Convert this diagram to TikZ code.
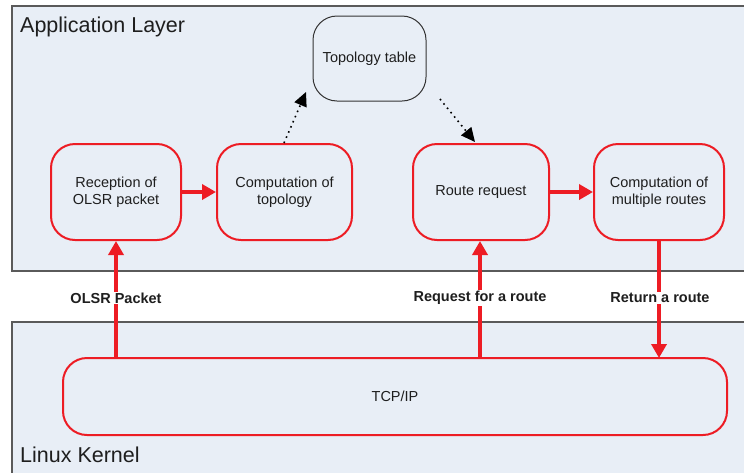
\documentclass[tikz,border=0pt]{standalone}
\usepackage{fontspec}
\setmainfont{Liberation Sans}
\usetikzlibrary{arrows.meta}
\definecolor{panelfill}{RGB}{232,238,246}
\definecolor{panelline}{RGB}{90,90,90}
\definecolor{myred}{RGB}{237,28,36}
\definecolor{txt}{RGB}{30,30,30}
\tikzset{
  panel/.style={draw=panelline, line width=1.2pt, fill=panelfill},
  redbox/.style={draw=myred, line width=2pt, rounded corners=24pt, text=txt,
     font=\fontsize{14.5}{17.5}\selectfont, align=center, inner sep=0pt},
  blackbox/.style={draw=black!80, line width=1pt, rounded corners=24pt, text=txt,
     font=\fontsize{14.5}{17.5}\selectfont, align=center, inner sep=0pt},
  redarrow/.style={draw=myred, line width=3.5pt, -{Triangle[length=14pt,width=15pt]}},
  dotarrow/.style={draw=black, line width=1.6pt, dash pattern=on 1.6pt off 4pt, -{Triangle[length=14pt,width=13pt]}},
  lbl/.style={font=\fontsize{14.5}{16}\bfseries, text=txt, fill=white, inner sep=1pt},
  title/.style={font=\fontsize{21.5}{24}\selectfont, text=txt, anchor=west, inner sep=0pt}
}
\begin{document}
\begin{tikzpicture}[x=1pt,y=-1pt]
\useasboundingbox (0,0) rectangle (744,472);
\clip (0,0) rectangle (744,472);
\fill[white] (0,0) rectangle (744,472);
% panels
\draw[panel] (12,760) -- (12,322) -- (760,322);
\fill[panelfill] (12.6,322.6) rectangle (760,480);
\draw[panel] (760,6) -- (12,6) -- (12,271) -- (760,271);
\fill[panelfill] (12.6,6.6) rectangle (760,270.4);
\node[title] (applbl) at (20,26.5) {Application Layer};
\node[title] (linlbl) at (20,455) {Linux Kernel};
% boxes
\node[redbox, minimum width=130pt, minimum height=96pt] (recv) at (116,192) {Reception of\\OLSR packet};
\node[redbox, minimum width=135pt, minimum height=96pt] (comptopo) at (284.5,192) {Computation of\\topology};
\node[blackbox, minimum width=113pt, minimum height=85pt] (table) at (369.5,58.5) {Topology table};
\node[redbox, minimum width=136pt, minimum height=96pt] (routereq) at (481,192) {Route request};
\node[redbox, minimum width=130pt, minimum height=96pt] (compmult) at (659,192) {Computation of\\multiple routes};
\node[redbox, minimum width=664pt, minimum height=77pt] (tcp) at (395,396.5) {TCP/IP};
% coordinates
\coordinate (a1) at (116,358);
\coordinate (a2) at (480,358);
\coordinate (a3) at (659,358);
\coordinate (d1s) at (284,143);
\coordinate (d1e) at (306,92);
\coordinate (d2s) at (440,99);
\coordinate (d2e) at (475,142);
% arrows
\draw[redarrow] (recv.east) -- (comptopo.west);
\draw[redarrow] (routereq.east) -- (compmult.west);
\draw[redarrow] (a1) -- (recv.south);
\draw[redarrow] (a2) -- (480,241);
\draw[redarrow] (compmult.south) -- (a3);
\draw[dotarrow] (d1s) -- (d1e);
\draw[dotarrow] (d2s) -- (d2e);
% labels
\node[lbl] (l1) at (116,298) {OLSR Packet};
\node[lbl] (l2) at (480,298) {Request for a route};
\node[lbl] (l3) at (660,298) {Return a route};
\end{tikzpicture}
\end{document}
